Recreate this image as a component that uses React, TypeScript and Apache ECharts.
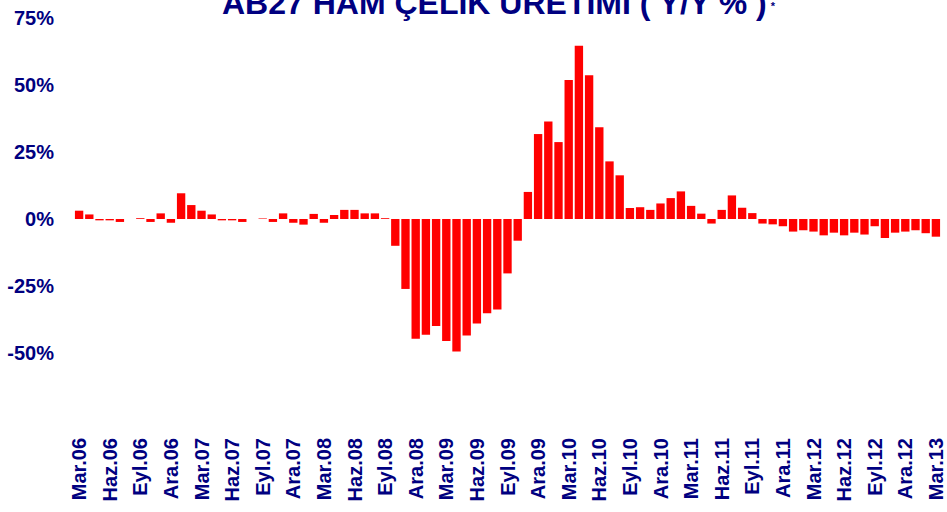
import React, { useEffect, useRef } from "react";
import * as echarts from "echarts";

const TITLE = "AB27 HAM ÇELİK ÜRETİMİ ( Y/Y % )";

const CATEGORIES: string[] = [
  "Mar.06", "Nis.06", "May.06", "Haz.06", "Tem.06", "Ağu.06", "Eyl.06", "Eki.06", "Kas.06", "Ara.06",
  "Oca.07", "Şub.07", "Mar.07", "Nis.07", "May.07", "Haz.07", "Tem.07", "Ağu.07", "Eyl.07", "Eki.07", "Kas.07", "Ara.07",
  "Oca.08", "Şub.08", "Mar.08", "Nis.08", "May.08", "Haz.08", "Tem.08", "Ağu.08", "Eyl.08", "Eki.08", "Kas.08", "Ara.08",
  "Oca.09", "Şub.09", "Mar.09", "Nis.09", "May.09", "Haz.09", "Tem.09", "Ağu.09", "Eyl.09", "Eki.09", "Kas.09", "Ara.09",
  "Oca.10", "Şub.10", "Mar.10", "Nis.10", "May.10", "Haz.10", "Tem.10", "Ağu.10", "Eyl.10", "Eki.10", "Kas.10", "Ara.10",
  "Oca.11", "Şub.11", "Mar.11", "Nis.11", "May.11", "Haz.11", "Tem.11", "Ağu.11", "Eyl.11", "Eki.11", "Kas.11", "Ara.11",
  "Oca.12", "Şub.12", "Mar.12", "Nis.12", "May.12", "Haz.12", "Tem.12", "Ağu.12", "Eyl.12", "Eki.12", "Kas.12", "Ara.12",
  "Oca.13", "Şub.13", "Mar.13",
];

const VALUES_2006 = [3.1, 1.7, -0.5, -0.5, -1.1, 0.0, 0.3, -1.1, 2.1, -1.4];
const VALUES_2007 = [9.6, 5.2, 3.1, 1.7, -0.5, -0.5, -1.1, 0.0, 0.2, -1.1, 2.1, -1.4];
const VALUES_2008 = [-2.1, 1.9, -1.4, 1.5, 3.4, 3.4, 2.1, 2.1, 0.3, -10.0, -26.1, -44.7];
const VALUES_2009 = [-43.2, -39.9, -45.5, -49.4, -43.5, -39.0, -35.2, -33.8, -20.3, -8.1, 10.1, 31.7];
const VALUES_2010 = [36.4, 28.7, 51.9, 64.6, 53.6, 34.2, 21.5, 16.3, 4.1, 4.4, 3.4, 5.8];
const VALUES_2011 = [7.8, 10.3, 4.9, 2.0, -1.7, 3.4, 8.8, 4.2, 2.2, -1.7, -2.0, -2.7];
const VALUES_2012 = [-4.7, -4.2, -4.7, -6.1, -5.1, -6.1, -5.1, -5.8, -2.7, -7.1, -5.1, -4.7];
const VALUES_2013 = [-4.2, -5.3, -6.6];

const Y_MIN = -75;
const Y_MAX = 75;
const Y_STEP = 25;

const NAVY = "#000080";
const FONT = "'Liberation Sans', Arial, Helvetica, sans-serif";

export default function App() {
  const ref = useRef<HTMLDivElement>(null);

  useEffect(() => {
    if (!ref.current) return;
    const chart = echarts.init(ref.current, null, { renderer: "svg" });
    const values = [
      ...VALUES_2006, ...VALUES_2007, ...VALUES_2008, ...VALUES_2009,
      ...VALUES_2010, ...VALUES_2011, ...VALUES_2012, ...VALUES_2013,
    ];
    chart.setOption({
      animation: false,
      backgroundColor: "#ffffff",
      title: {
        text: "{a|" + TITLE + "}{b|*}",
        left: 222,
        top: -13,
        padding: 0,
        textStyle: {
          rich: {
            a: { fontFamily: FONT, fontWeight: "bold", fontSize: 32, color: NAVY },
            b: { fontFamily: FONT, fontWeight: "bold", fontSize: 11, color: NAVY, verticalAlign: "top", padding: [13, 0, 0, 3] },
          },
        },
      },
      grid: { left: 74, right: 6, top: 18, bottom: 92, containLabel: false },
      xAxis: {
        type: "category",
        data: CATEGORIES,
        boundaryGap: true,
        axisLine: { show: false },
        axisTick: { show: false },
        splitLine: { show: false },
        axisLabel: {
          interval: 2,
          rotate: 90,
          margin: 18,
          color: NAVY,
          fontFamily: FONT,
          fontWeight: "bold",
          fontSize: 20,
        },
      },
      yAxis: {
        type: "value",
        min: Y_MIN,
        max: Y_MAX,
        interval: Y_STEP,
        axisLine: { show: false },
        axisTick: { show: false },
        splitLine: { show: false },
        axisLabel: {
          margin: 20,
          color: NAVY,
          fontFamily: FONT,
          fontWeight: "bold",
          fontSize: 20,
          formatter: (v: number) => (v <= Y_MIN ? "" : v + "%"),
        },
      },
      series: [
        {
          type: "bar",
          data: values,
          barCategoryGap: "18%",
          itemStyle: { color: "#ff0000" },
        },
      ],
    });
    return () => chart.dispose();
  }, []);

  return <div ref={ref} style={{ width: 947, height: 512, position: "absolute", left: 0, top: 0 }} />;
}
